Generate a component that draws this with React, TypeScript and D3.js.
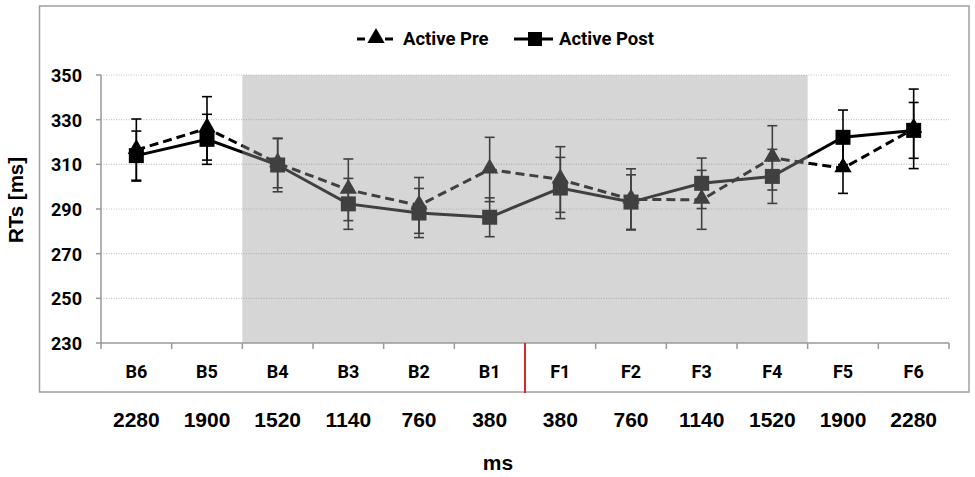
import * as d3 from "d3";

const WIDTH = 975;
const HEIGHT = 477;
const PLOT = { left: 101, right: 949, top: 75, bottom: 343 };
const FRAME = { left: 39.5, top: 6, right: 969, bottom: 392 };

const categories = ["B6", "B5", "B4", "B3", "B2", "B1", "F1", "F2", "F3", "F4", "F5", "F6"];
const msLabels = ["2280", "1900", "1520", "1140", "760", "380", "380", "760", "1140", "1520", "1900", "2280"];
const yTicks = [230, 250, 270, 290, 310, 330, 350];

const preMean = [316.4, 326.1, 310.5, 298.6, 291.6, 307.7, 303.2, 294.3, 294.1, 312.9, 308.2, 325.9];
const preErr = [13.9, 14.2, 11, 13.8, 12.5, 14.4, 14.7, 13.7, 13.2, 14.4, 11.2, 17.8];
const postMean = [313.9, 321.2, 309.7, 292.3, 288.2, 286.3, 299.4, 293.1, 301.5, 304.6, 322.1, 325.2];
const postErr = [11, 11.2, 12, 11.4, 11, 8.7, 13.7, 12.2, 11.3, 12.1, 12.2, 12.5];

const shadeFrom = "B4";
const shadeTo = "F4";
const splitAt = "F1";

const SANS = "Roboto, 'Liberation Sans', sans-serif";
const ARIAL = "'Liberation Sans', Arial, sans-serif";

const App = () => {
  const xScale = d3.scaleBand<string>().domain(categories).range([PLOT.left, PLOT.right]);
  const yScale = d3.scaleLinear().domain([230, 350]).range([PLOT.bottom, PLOT.top]);
  const bw = xScale.bandwidth();
  const cx = (c: string) => (xScale(c) || 0) + bw / 2;

  const lineBuilder = d3
    .line<number>()
    .x((_, i) => cx(categories[i]))
    .y((d) => yScale(d));

  const triangle = d3.symbol().type(d3.symbolTriangle).size(130);

  const errorBars = (means: number[], errs: number[], key: string) =>
    means.map((m, i) => {
      const x = cx(categories[i]);
      const y0 = yScale(m - errs[i]);
      const y1 = yScale(m + errs[i]);
      return (
        <g key={key + i} stroke="#000" strokeWidth={1.6}>
          <line x1={x} x2={x} y1={y0} y2={y1} />
          <line x1={x - 5} x2={x + 5} y1={y0} y2={y0} />
          <line x1={x - 5} x2={x + 5} y1={y1} y2={y1} />
        </g>
      );
    });

  const grid = yTicks
    .filter((t) => t !== 230)
    .map((t) => (
      <line
        key={t}
        x1={PLOT.left}
        x2={PLOT.right}
        y1={yScale(t)}
        y2={yScale(t)}
        stroke="#c4c4c4"
        strokeWidth={1.2}
        strokeDasharray="1,1.5"
      />
    ));

  const shadeX0 = xScale(shadeFrom) || 0;
  const shadeX1 = (xScale(shadeTo) || 0) + bw;
  const splitX = xScale(splitAt) || 0;

  return (
    <svg
      width={WIDTH}
      height={HEIGHT}
      style={{ position: "absolute", left: 0, top: 0, background: "#fff" }}
    >
      <rect
        x={FRAME.left}
        y={FRAME.top}
        width={FRAME.right - FRAME.left}
        height={FRAME.bottom - FRAME.top}
        fill="#fff"
        stroke="#a0a0a0"
        strokeWidth={1.5}
      />

      {/* legend */}
      <g>
        <line x1={357} x2={393} y1={39} y2={39} stroke="#000" strokeWidth={3} strokeDasharray="8,6" />
        <path d={triangle()!} transform="translate(376,38)" fill="#000" />
        <text x={403} y={45} fontFamily={SANS} fontWeight="bold" fontSize={18.5}>
          Active Pre
        </text>
        <line x1={514} x2={553} y1={39} y2={39} stroke="#000" strokeWidth={3} />
        <rect x={528} y={32} width={14} height={14} fill="#000" />
        <text x={559} y={45} fontFamily={SANS} fontWeight="bold" fontSize={18.5}>
          Active Post
        </text>
      </g>

      {grid}

      {/* series */}
      <path
        d={lineBuilder(preMean)!}
        fill="none"
        stroke="#000"
        strokeWidth={3}
        strokeDasharray="9,5"
      />
      {errorBars(preMean, preErr, "pre")}
      {preMean.map((m, i) => (
        <path
          key={"tri" + i}
          d={triangle()!}
          transform={`translate(${cx(categories[i])},${yScale(m) - 1})`}
          fill="#000"
        />
      ))}
      <path d={lineBuilder(postMean)!} fill="none" stroke="#000" strokeWidth={3} />
      {errorBars(postMean, postErr, "post")}
      {postMean.map((m, i) => (
        <rect
          key={"sq" + i}
          x={cx(categories[i]) - 7.5}
          y={yScale(m) - 7.5}
          width={15}
          height={15}
          fill="#000"
        />
      ))}

      {/* translucent shaded block over the middle */}
      <rect
        x={shadeX0}
        y={PLOT.top}
        width={shadeX1 - shadeX0}
        height={PLOT.bottom - PLOT.top}
        fill="rgb(156,156,156)"
        fillOpacity={0.41}
      />

      {/* axes */}
      <line x1={PLOT.left} x2={PLOT.left} y1={PLOT.top} y2={PLOT.bottom} stroke="#999" strokeWidth={1.5} />
      {yTicks.map((t) => (
        <g key={t}>
          <line x1={PLOT.left - 5} x2={PLOT.left} y1={yScale(t)} y2={yScale(t)} stroke="#999" strokeWidth={1.5} />
          <text
            x={82}
            y={yScale(t) + 7}
            textAnchor="end"
            fontFamily={SANS}
            fontWeight="bold"
            fontSize={18}
          >
            {t}
          </text>
        </g>
      ))}
      <line x1={PLOT.left} x2={PLOT.right} y1={PLOT.bottom} y2={PLOT.bottom} stroke="#999" strokeWidth={1.5} />
      {d3.range(categories.length + 1).map((i) => {
        const x = PLOT.left + i * bw;
        return <line key={i} x1={x} x2={x} y1={PLOT.bottom} y2={PLOT.bottom + 6} stroke="#999" strokeWidth={1.5} />;
      })}
      <line x1={splitX} x2={splitX} y1={PLOT.bottom} y2={FRAME.bottom + 1} stroke="#d42a2a" strokeWidth={2} />

      {categories.map((c) => (
        <text
          key={c}
          x={cx(c)}
          y={378}
          textAnchor="middle"
          fontFamily={SANS}
          fontWeight="bold"
          fontSize={18}
        >
          {c}
        </text>
      ))}
      {msLabels.map((m, i) => (
        <text
          key={i}
          x={cx(categories[i])}
          y={427}
          textAnchor="middle"
          fontFamily={ARIAL}
          fontWeight="bold"
          fontSize={21}
        >
          {m}
        </text>
      ))}

      <text x={498} y={470} textAnchor="middle" fontFamily={ARIAL} fontWeight="bold" fontSize={21}>
        ms
      </text>
      <text
        transform="translate(23,200) rotate(-90)"
        textAnchor="middle"
        fontFamily={ARIAL}
        fontWeight="bold"
        fontSize={20.5}
      >
        RTs [ms]
      </text>
    </svg>
  );
};

export default App;
